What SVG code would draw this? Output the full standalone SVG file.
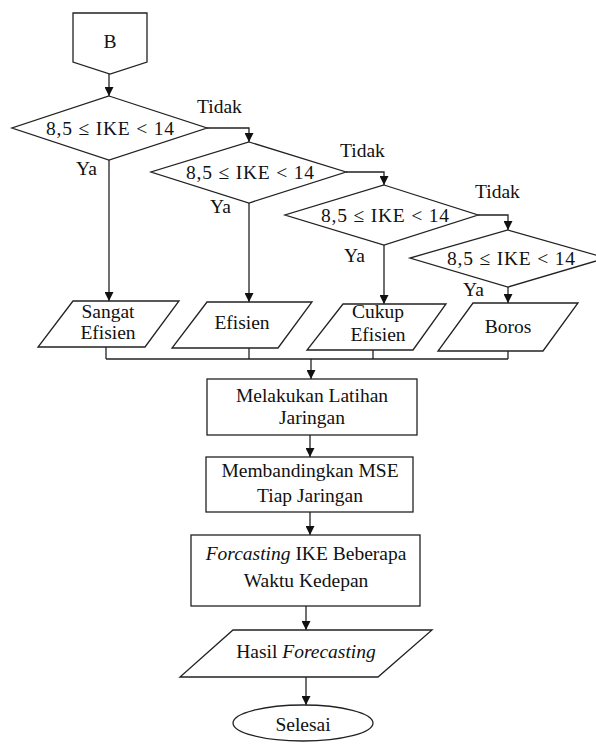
<svg xmlns="http://www.w3.org/2000/svg" width="596" height="745" viewBox="0 0 596 745">
  <style>
    .shape { fill: #fff; stroke: #222; stroke-width: 1.3; }
    .line { fill: none; stroke: #222; stroke-width: 1.3; }
    text { font-family: "Liberation Serif", "Times New Roman", serif; font-size: 19.5px; fill: #111; }
    .c { text-anchor: middle; }
    .i { font-style: italic; }
  </style>
  <defs>
    <marker id="arrow" markerUnits="userSpaceOnUse" markerWidth="9" markerHeight="9" refX="9" refY="4.5" orient="auto">
      <path d="M0,0 L9,4.5 L0,9 z" fill="#111"/>
    </marker>
  </defs>
  <rect width="596" height="745" fill="#fff"/>

  <!-- connectors -->
  <g id="connectors" class="line">
    <line x1="109" y1="74" x2="109" y2="96" marker-end="url(#arrow)"/>
    <!-- Tidak branches -->
    <polyline points="207,128 249,128 249,142" marker-end="url(#arrow)"/>
    <polyline points="346,172 384,172 384,185" marker-end="url(#arrow)"/>
    <polyline points="478,215 508,215 508,230" marker-end="url(#arrow)"/>
    <!-- Ya branches -->
    <line x1="109" y1="160" x2="109" y2="301" marker-end="url(#arrow)"/>
    <line x1="249" y1="203" x2="249" y2="302" marker-end="url(#arrow)"/>
    <line x1="384" y1="245" x2="384" y2="304" marker-end="url(#arrow)"/>
    <line x1="508" y1="287" x2="508" y2="303" marker-end="url(#arrow)"/>
    <!-- merge -->
    <line x1="106" y1="347" x2="106" y2="359"/>
    <line x1="249" y1="348" x2="249" y2="359"/>
    <line x1="373" y1="350" x2="373" y2="359"/>
    <line x1="508" y1="351" x2="508" y2="359"/>
    <line x1="106" y1="359" x2="508" y2="359"/>
    <line x1="311" y1="359" x2="311" y2="379" marker-end="url(#arrow)"/>
    <line x1="310" y1="435" x2="310" y2="457" marker-end="url(#arrow)"/>
    <line x1="310" y1="512" x2="310" y2="535" marker-end="url(#arrow)"/>
    <line x1="306" y1="606" x2="306" y2="630" marker-end="url(#arrow)"/>
    <line x1="306" y1="677" x2="306" y2="705" marker-end="url(#arrow)"/>
  </g>

  <g id="labels">
    <text x="197" y="113">Tidak</text>
    <text x="340" y="157">Tidak</text>
    <text x="475" y="198">Tidak</text>
    <text x="76" y="175">Ya</text>
    <text x="210" y="213">Ya</text>
    <text x="344" y="262">Ya</text>
    <text x="463" y="296">Ya</text>
  </g>

  <g id="start-B">
    <polygon class="shape" points="73,13 147,13 147,62 110,74 73,62"/>
    <text class="c" x="110" y="48">B</text>
  </g>

  <g id="decision-1">
    <polygon class="shape" points="109,96 207,128 109,160 12,128"/>
    <text class="c" x="110" y="135" textLength="128" lengthAdjust="spacing">8,5 ≤ IKE &lt; 14</text>
  </g>
  <g id="decision-2">
    <polygon class="shape" points="249,142 346,172 249,203 151,172"/>
    <text class="c" x="250" y="179" textLength="128" lengthAdjust="spacing">8,5 ≤ IKE &lt; 14</text>
  </g>
  <g id="decision-3">
    <polygon class="shape" points="384,185 478,215 384,245 285,215"/>
    <text class="c" x="385" y="222" textLength="128" lengthAdjust="spacing">8,5 ≤ IKE &lt; 14</text>
  </g>
  <g id="decision-4">
    <polygon class="shape" points="508,230 606,258 508,287 410,258"/>
    <text class="c" x="511" y="265" textLength="128" lengthAdjust="spacing">8,5 ≤ IKE &lt; 14</text>
  </g>

  <g id="out-sangat-efisien">
    <polygon class="shape" points="73,301 179,301 145,347 38,347"/>
    <text class="c" x="108" y="318">Sangat</text>
    <text class="c" x="108" y="339">Efisien</text>
  </g>
  <g id="out-efisien">
    <polygon class="shape" points="207,302 312,302 278,348 172,348"/>
    <text class="c" x="242" y="329">Efisien</text>
  </g>
  <g id="out-cukup-efisien">
    <polygon class="shape" points="343,304 446,304 413,350 307,350"/>
    <text class="c" x="378" y="318">Cukup</text>
    <text class="c" x="378" y="341">Efisien</text>
  </g>
  <g id="out-boros">
    <polygon class="shape" points="473,303 578,303 543,351 438,351"/>
    <text class="c" x="508" y="333">Boros</text>
  </g>

  <g id="latihan">
    <rect class="shape" x="207" y="379" width="210" height="56"/>
    <text class="c" x="312" y="402">Melakukan Latihan</text>
    <text class="c" x="312" y="424">Jaringan</text>
  </g>
  <g id="bandingkan">
    <rect class="shape" x="206" y="457" width="207" height="55"/>
    <text class="c" x="310" y="477">Membandingkan MSE</text>
    <text class="c" x="310" y="502">Tiap Jaringan</text>
  </g>
  <g id="forcasting">
    <rect class="shape" x="191" y="535" width="229" height="71"/>
    <text class="c" x="306" y="560"><tspan class="i">Forcasting</tspan> IKE Beberapa</text>
    <text class="c" x="306" y="587">Waktu Kedepan</text>
  </g>
  <g id="hasil">
    <polygon class="shape" points="233,630 432,630 378,677 180,677"/>
    <text class="c" x="306" y="658">Hasil <tspan class="i">Forecasting</tspan></text>
  </g>
  <g id="selesai">
    <ellipse class="shape" cx="303" cy="723" rx="70" ry="18"/>
    <text class="c" x="303" y="731">Selesai</text>
  </g>
</svg>
